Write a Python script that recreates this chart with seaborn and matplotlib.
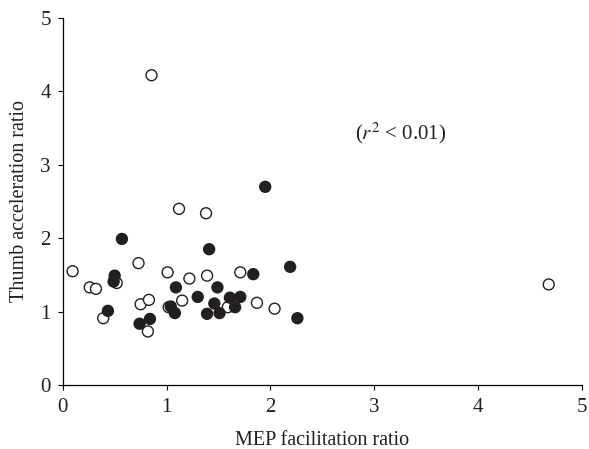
import matplotlib
matplotlib.use("Agg")
import matplotlib.pyplot as plt
import seaborn as sns
import pandas as pd

# Open-circle group
open_x = [0.855, 1.12, 1.38, 0.095, 0.73, 0.52, 0.26, 0.32, 0.75, 0.83, 0.39,
          0.82, 1.01, 1.22, 1.39, 1.71, 1.15, 1.87, 1.02, 1.59, 2.04, 4.68]
open_y = [4.22, 2.40, 2.34, 1.55, 1.66, 1.39, 1.33, 1.31, 1.10, 1.16, 0.91,
          0.73, 1.535, 1.45, 1.49, 1.535, 1.15, 1.12, 1.06, 1.06, 1.04, 1.37]

# Filled-circle group
filled_x = [1.95, 0.57, 1.41, 0.50, 0.49, 0.435, 0.74, 0.84, 1.835, 1.09, 1.49,
            1.30, 1.61, 1.71, 1.04, 1.08, 1.46, 1.66, 1.39, 1.51, 2.19, 2.26]
filled_y = [2.70, 1.99, 1.85, 1.49, 1.41, 1.01, 0.835, 0.90, 1.51, 1.33, 1.33,
            1.20, 1.19, 1.20, 1.07, 0.98, 1.11, 1.06, 0.97, 0.98, 1.61, 0.91]

x_ticks = [0, 1, 2, 3, 4, 5]
y_ticks = [0, 1, 2, 3, 4, 5]

df = pd.DataFrame({
    "mep": open_x + filled_x,
    "thumb": open_y + filled_y,
    "group": ["open"] * len(open_x) + ["filled"] * len(filled_x),
})

sns.set_style("white")
plt.rcParams["font.family"] = ["Liberation Serif", "DejaVu Serif"]
plt.rcParams["mathtext.fontset"] = "stix"

fig = plt.figure(figsize=(5.89, 4.49), dpi=100)
ax = fig.add_axes([0.1065, 0.1425, 0.8815, 0.8175])

sns.scatterplot(
    data=df, x="mep", y="thumb", hue="group",
    palette={"open": "white", "filled": "#231f20"},
    edgecolor="#231f20", linewidth=1.0, s=62, legend=False, ax=ax,
    zorder=3, clip_on=False,
)

ax.set_xlim(0, 5)
ax.set_ylim(0, 5)
ax.set_xticks(x_ticks)
ax.set_yticks(y_ticks)
ax.tick_params(axis="both", direction="out", length=3.5, width=0.8,
               color="black", labelsize=15, labelcolor="#231f20",
               left=True, bottom=True)
ax.tick_params(axis="x", pad=6)
ax.tick_params(axis="y", pad=5)
for side in ["top", "right"]:
    ax.spines[side].set_visible(False)
for side in ["left", "bottom"]:
    ax.spines[side].set_color("black")
    ax.spines[side].set_linewidth(0.9)

ax.set_xlabel("MEP facilitation ratio", fontsize=14.5, color="#231f20", labelpad=10)
ax.set_ylabel("Thumb acceleration ratio", fontsize=14.5, color="#231f20", labelpad=8)

ax.text(2.81, 3.43, r"($r^2$ < 0.01)", fontsize=15, color="#231f20",
        ha="left", va="center")

fig.savefig("out.png", dpi=100)
